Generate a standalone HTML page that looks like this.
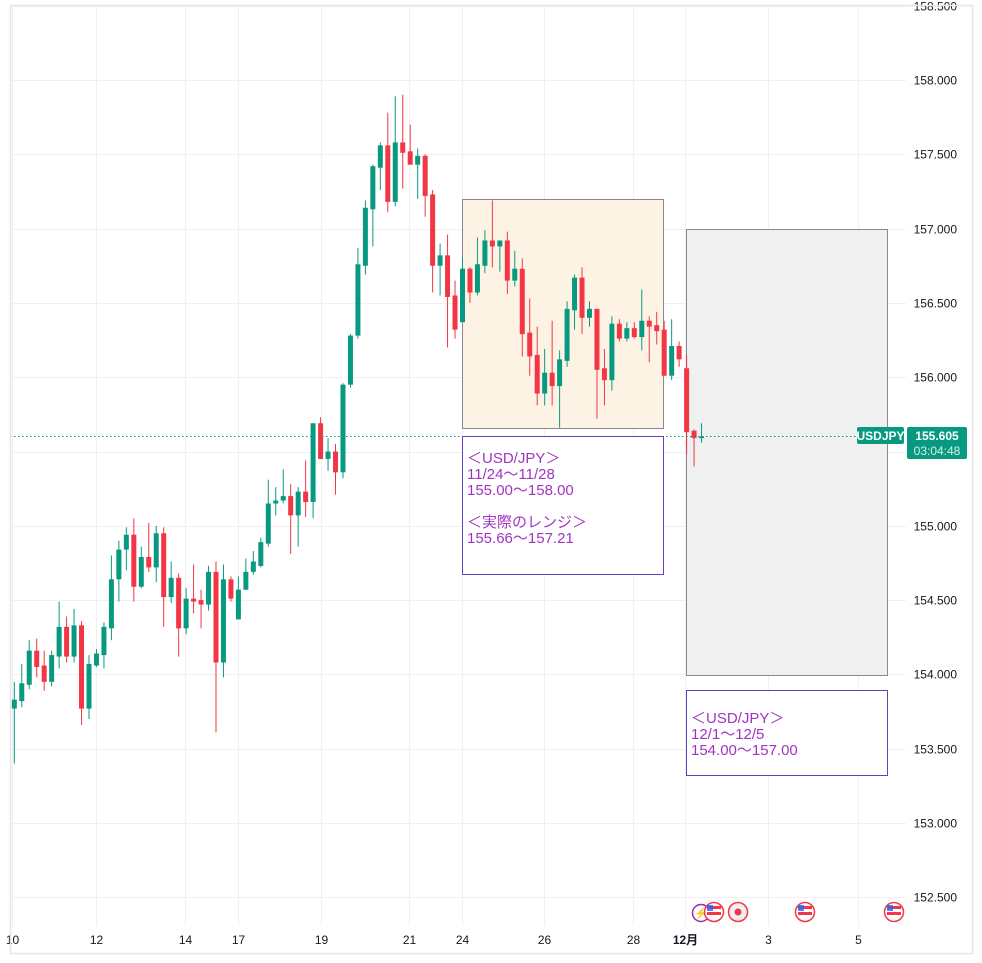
<!DOCTYPE html>
<html><head><meta charset="utf-8"><style>
html,body{margin:0;padding:0;background:#fff;}
svg{display:block;font-family:"Liberation Sans","Noto Sans CJK JP",sans-serif;}
</style></head><body>
<svg id="chart" width="982" height="963" viewBox="0 0 982 963" xmlns="http://www.w3.org/2000/svg">
<rect x="0" y="0" width="982" height="963" fill="#fff"/>
<g id="grid"></g>
<rect x="462.5" y="199.5" width="201" height="229" fill="#fdf3e5" stroke="#8a8a8a" stroke-width="1"/>
<rect x="686.5" y="229.5" width="201" height="446" fill="#f0f0f0" stroke="#8a8a8a" stroke-width="1"/>
<g id="candles"></g>
<line x1="10" y1="436.5" x2="857" y2="436.5" stroke="#089981" stroke-width="1" stroke-dasharray="1.5,2.5"/>
<g>
<rect x="462.5" y="436.5" width="201" height="138" fill="#fff" stroke="#6a3cc4" stroke-width="1"/>
<g fill="#a035c0" font-size="15">
<text x="467" y="463">＜USD/JPY＞</text>
<text x="467" y="479">11/24〜11/28</text>
<text x="467" y="495">155.00〜158.00</text>
<text x="467" y="527">＜実際のレンジ＞</text>
<text x="467" y="543">155.66〜157.21</text>
</g></g>
<g>
<rect x="686.5" y="690.5" width="201" height="85" fill="#fff" stroke="#6a3cc4" stroke-width="1"/>
<g fill="#a035c0" font-size="15">
<text x="691" y="723">＜USD/JPY＞</text>
<text x="691" y="739">12/1〜12/5</text>
<text x="691" y="755">154.00〜157.00</text>
</g></g>
<g id="yaxis"></g>
<g id="xaxis"></g>
<g>
<rect x="857" y="427" width="47" height="17" rx="2" fill="#089981"/>
<text x="880.5" y="440" font-size="12" font-weight="bold" fill="#fff" text-anchor="middle">USDJPY</text>
</g>
<g>
<rect x="907" y="427" width="60" height="32" rx="2" fill="#089981"/>
<text x="937" y="440" font-size="12" font-weight="bold" fill="#fff" text-anchor="middle">155.605</text>
<text x="937" y="455" font-size="12" fill="#d8f0ea" text-anchor="middle">03:04:48</text>
</g>
<g>
<circle cx="701" cy="913" r="8.5" fill="#fff" stroke="#9c27b0" stroke-width="1.5"/>
<text x="701" y="917" font-size="11" fill="#9c27b0" text-anchor="middle">⚡</text>
<g><circle cx="714" cy="912" r="9.5" fill="#fff" stroke="#f23645" stroke-width="1.5"/><rect x="707" y="906" width="14" height="3" fill="#f23645"/><rect x="707" y="912" width="14" height="3" fill="#f23645"/><rect x="707" y="905" width="6" height="6" fill="#2962ff" opacity=".8"/></g>
<g><circle cx="738" cy="912" r="9.5" fill="#eef0f5" stroke="#f23645" stroke-width="1.5"/><circle cx="738" cy="912" r="3.5" fill="#f23645"/></g>
<g><circle cx="805" cy="912" r="9.5" fill="#fff" stroke="#f23645" stroke-width="1.5"/><rect x="798" y="906" width="14" height="3" fill="#f23645"/><rect x="798" y="912" width="14" height="3" fill="#f23645"/><rect x="798" y="905" width="6" height="6" fill="#2962ff" opacity=".8"/></g>
<g><circle cx="894" cy="912" r="9.5" fill="#fff" stroke="#f23645" stroke-width="1.5"/><rect x="887" y="906" width="14" height="3" fill="#f23645"/><rect x="887" y="912" width="14" height="3" fill="#f23645"/><rect x="887" y="905" width="6" height="6" fill="#2962ff" opacity=".8"/></g>
</g>
<rect x="10.5" y="5.5" width="962" height="948" fill="none" stroke="#e6e6e6" stroke-width="1.5"/>
</svg>
<script>
const opens=[153.77,153.82,153.93,154.16,154.06,153.95,154.12,154.32,154.12,154.33,153.77,154.06,154.13,154.31,154.64,154.84,154.94,154.59,154.79,154.72,154.95,154.52,154.65,154.31,154.51,154.50,154.47,154.69,154.08,154.64,154.37,154.57,154.69,154.73,154.88,155.15,155.17,155.20,155.07,155.23,155.16,155.69,155.45,155.50,155.36,155.95,156.28,156.75,157.13,157.41,157.56,157.18,157.58,157.52,157.43,157.49,157.23,156.75,156.82,156.55,156.37,156.73,156.57,156.75,156.92,156.88,156.92,156.65,156.73,156.30,156.15,155.89,156.03,155.94,156.11,156.45,156.67,156.40,156.46,156.06,155.98,156.36,156.26,156.33,156.27,156.38,156.35,156.32,156.01,156.21,156.06,155.64,155.59];
const closes=[153.83,153.94,154.16,154.05,153.95,154.13,154.32,154.12,154.33,153.77,154.07,154.14,154.32,154.64,154.84,154.94,154.59,154.79,154.72,154.95,154.52,154.65,154.31,154.51,154.49,154.47,154.69,154.08,154.64,154.51,154.57,154.69,154.76,154.89,155.15,155.17,155.20,155.07,155.23,155.16,155.69,155.45,155.50,155.36,155.95,156.28,156.76,157.14,157.42,157.56,157.18,157.58,157.51,157.43,157.49,157.22,156.75,156.82,156.54,156.32,156.73,156.57,156.76,156.92,156.88,156.92,156.65,156.73,156.29,156.14,155.89,156.03,155.94,156.12,156.46,156.67,156.40,156.46,156.05,155.98,156.36,156.26,156.33,156.27,156.38,156.34,156.31,156.01,156.21,156.12,155.63,155.59,155.60];
const highs=[153.95,154.07,154.23,154.24,154.16,154.16,154.49,154.39,154.44,154.36,154.13,154.17,154.35,154.80,154.90,154.99,155.05,154.86,155.02,155.00,154.99,154.76,154.68,154.58,154.74,154.57,154.73,154.76,154.74,154.66,154.66,154.78,154.83,154.92,155.31,155.26,155.38,155.28,155.26,155.44,155.69,155.73,155.59,155.55,155.96,156.29,156.87,157.19,157.43,157.58,157.78,157.89,157.90,157.70,157.54,157.50,157.26,156.90,156.96,156.65,156.80,156.74,156.94,156.99,157.19,156.92,156.98,156.85,156.80,156.53,156.34,156.19,156.38,156.18,156.51,156.69,156.74,156.51,156.46,156.19,156.41,156.39,156.37,156.37,156.59,156.41,156.44,156.38,156.39,156.24,156.15,155.65,155.69];
const lows=[153.40,153.78,153.90,153.98,153.89,153.92,154.04,154.08,154.08,153.66,153.70,154.05,154.04,154.23,154.49,154.70,154.49,154.58,154.69,154.62,154.32,154.48,154.12,154.27,154.41,154.31,154.43,153.61,153.98,154.49,154.37,154.57,154.67,154.72,154.86,155.07,155.15,154.81,154.86,155.06,155.05,155.45,155.37,155.21,155.32,155.93,156.26,156.69,156.88,157.26,157.11,157.15,157.27,157.43,157.20,157.08,156.57,156.55,156.20,156.26,156.37,156.50,156.55,156.70,156.74,156.71,156.56,156.61,156.14,156.01,155.81,155.81,155.81,155.66,156.07,156.32,156.29,156.34,155.72,155.81,155.91,156.24,156.24,156.26,156.18,156.10,156.22,156.01,155.98,156.07,155.48,155.40,155.56];
const priceTicks=[158.5,158.0,157.5,157.0,156.5,156.0,155.5,155.0,154.5,154.0,153.5,153.0,152.5];
const timeLabels=["10","12","14","17","19","21","24","26","28","12月","3","5"];
const timeIdx=[-0.3,10.9,22.9,30.0,41.0,52.9,59.9,70.9,82.8,89.8,100.9,112.9];

const NS="http://www.w3.org/2000/svg";
function yS(p){return 80+(158-p)*148.6;}
function xS(i){return 14.3+i*7.47;}
function mk(tag,attrs,parent){const e=document.createElementNS(NS,tag);for(const k in attrs)e.setAttribute(k,attrs[k]);parent.appendChild(e);return e;}
const grid=document.getElementById('grid'),cg=document.getElementById('candles'),ya=document.getElementById('yaxis'),xa=document.getElementById('xaxis');
priceTicks.forEach(p=>{
  const y=Math.round(yS(p))+0.5;
  const l=mk('line',{x1:10,x2:906,y1:y,y2:y,stroke:'#f0f0f2','stroke-width':1},grid);
  
  
  const t=mk('text',{x:957,y:y+4,'font-size':12,fill:'#131722','text-anchor':'end'},ya);
  t.textContent=p.toFixed(3);
  
  
});
timeLabels.forEach((s,k)=>{
  const x=Math.round(xS(timeIdx[k]))+0.5;
  const l=mk('line',{x1:x,x2:x,y1:5,y2:926,stroke:'#f0f0f2','stroke-width':1},grid);
  
  
  const t=mk('text',{x:x,y:944,'font-size':12,fill:'#131722','text-anchor':'middle','font-weight':s.indexOf('月')>=0?'bold':'normal'},xa);
  t.textContent=s;
  
  
});
opens.forEach((o,i)=>{
  const c=closes[i],up=c>=o,col=up?'#089981':'#f23645',x=xS(i);
  const g=mk('g',{},cg);
  
  
  mk('line',{x1:x,x2:x,y1:yS(highs[i]),y2:yS(lows[i]),stroke:col,'stroke-width':1},g);
  const top=yS(Math.max(o,c)),bot=yS(Math.min(o,c));
  mk('rect',{x:x-2.5,y:top,width:5,height:Math.max(1,bot-top),fill:col},g);
});
</script>
</body></html>
